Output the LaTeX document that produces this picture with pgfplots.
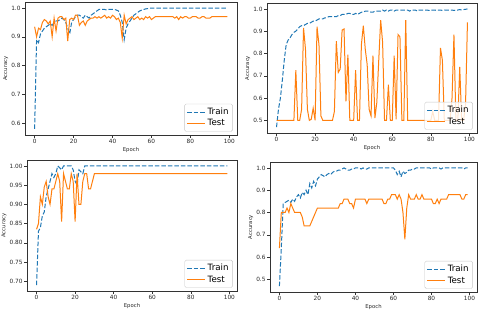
\documentclass[border=0pt]{standalone}
\usepackage{pgfplots}
\usepackage{pgfplotstable}
\pgfplotsset{compat=1.18}
\usepackage{fontspec}
\setmainfont{DejaVu Sans}
\definecolor{tabblue}{HTML}{1F77B4}
\definecolor{taborange}{HTML}{FF7F0E}
\pgfplotstableread{
e a1 b1 a2 b2 a3 b3 a4 b4
0 0.58 0.935 0.47 0.5 0.69 0.835 0.47 0.64
1 0.89 0.90 0.55 0.5 0.83 0.85 0.64 0.80
2 0.88 0.93 0.60 0.5 0.84 0.92 0.84 0.80
3 0.91 0.925 0.68 0.5 0.87 0.90 0.845 0.80
4 0.92 0.95 0.77 0.5 0.88 0.945 0.85 0.82
5 0.93 0.96 0.84 0.5 0.92 0.96 0.855 0.80
6 0.935 0.955 0.86 0.5 0.94 0.92 0.845 0.84
7 0.94 0.945 0.87 0.5 0.96 0.90 0.86 0.82
8 0.945 0.955 0.885 0.5 0.98 0.94 0.85 0.80
9 0.94 0.90 0.895 0.5 0.97 0.94 0.87 0.80
10 0.95 0.965 0.90 0.725 0.98 0.96 0.88 0.80
11 0.955 0.92 0.91 0.5 1.0 0.98 0.865 0.80
12 0.955 0.965 0.92 0.5 0.995 0.96 0.89 0.78
13 0.96 0.97 0.925 0.55 0.99 0.855 0.88 0.74
14 0.965 0.97 0.925 0.915 1.0 0.98 0.90 0.74
15 0.96 0.96 0.93 0.82 1.0 0.96 0.88 0.74
16 0.95 0.965 0.935 0.55 1.0 0.94 0.93 0.74
17 0.93 0.885 0.935 0.50 1.0 0.94 0.91 0.76
18 0.91 0.96 0.94 0.505 1.0 0.98 0.94 0.78
19 0.95 0.965 0.945 0.555 0.99 0.96 0.92 0.80
20 0.96 0.96 0.945 0.50 0.96 0.855 0.95 0.82
21 0.97 0.975 0.95 0.92 0.95 0.98 0.96 0.82
22 0.975 0.975 0.955 0.84 0.99 0.90 0.97 0.82
23 0.975 0.94 0.955 0.52 0.985 0.90 0.965 0.82
24 0.97 0.95 0.955 0.5 0.98 0.96 0.96 0.82
25 0.965 0.955 0.96 0.5 1.0 0.98 0.97 0.82
26 0.975 0.94 0.96 0.5 1.0 0.98 0.975 0.82
27 0.97 0.955 0.965 0.5 1.0 0.94 0.97 0.82
28 0.965 0.96 0.965 0.5 1.0 0.94 0.98 0.82
29 0.975 0.965 0.965 0.5 1.0 0.96 0.985 0.82
30 0.98 0.965 0.965 0.54 1.0 0.98 0.985 0.82
31 0.985 0.97 0.965 0.855 1.0 0.98 0.99 0.82
32 0.99 0.965 0.97 0.715 1.0 0.98 0.99 0.84
33 0.995 0.97 0.97 0.73 1.0 0.98 0.995 0.84
34 0.995 0.965 0.975 0.905 1.0 0.98 1.0 0.86
35 0.995 0.97 0.975 0.91 1.0 0.98 0.995 0.86
36 0.995 0.975 0.975 0.585 1.0 0.98 0.99 0.86
37 0.993 0.965 0.98 0.795 1.0 0.98 0.99 0.84
38 0.995 0.97 0.98 0.5 1.0 0.98 0.995 0.84
39 0.995 0.965 0.975 0.5 1.0 0.98 0.995 0.82
40 0.995 0.975 0.975 0.5 1.0 0.98 1.0 0.86
41 0.995 0.97 0.98 0.725 1.0 0.98 1.0 0.86
42 0.993 0.96 0.975 0.5 1.0 0.98 1.0 0.86
43 0.99 0.965 0.98 0.5 1.0 0.98 0.995 0.86
44 0.975 0.95 0.985 0.84 1.0 0.98 1.0 0.86
45 0.95 0.895 0.985 0.925 1.0 0.98 0.995 0.86
46 0.89 0.975 0.99 0.82 1.0 0.98 0.995 0.84
47 0.93 0.945 0.99 0.75 1.0 0.98 1.0 0.86
48 0.945 0.96 0.99 0.55 1.0 0.98 1.0 0.86
49 0.955 0.965 0.985 0.52 1.0 0.98 1.0 0.86
50 0.965 0.97 0.985 0.79 1.0 0.98 1.0 0.86
51 0.975 0.96 0.99 0.51 1.0 0.98 1.0 0.86
52 0.98 0.965 0.99 0.58 1.0 0.98 1.0 0.86
53 0.985 0.97 0.99 0.77 1.0 0.98 1.0 0.86
54 0.99 0.96 0.99 0.95 1.0 0.98 1.0 0.86
55 0.993 0.965 0.995 0.85 1.0 0.98 1.0 0.84
56 0.995 0.96 0.99 0.5 1.0 0.98 1.0 0.84
57 0.997 0.97 0.995 0.5 1.0 0.98 1.0 0.86
58 0.998 0.965 0.99 0.66 1.0 0.98 1.0 0.86
59 0.999 0.97 0.995 0.5 1.0 0.98 1.0 0.88
60 1.0 0.96 0.995 0.5 1.0 0.98 1.0 0.88
61 1.0 0.965 0.99 0.79 1.0 0.98 0.99 0.88
62 1.0 0.97 0.995 0.505 1.0 0.98 0.97 0.86
63 1.0 0.97 0.995 0.885 1.0 0.98 0.985 0.88
64 1.0 0.97 0.995 0.875 1.0 0.98 0.96 0.86
65 1.0 0.97 0.995 0.5 1.0 0.98 0.985 0.80
66 1.0 0.97 0.995 0.5 1.0 0.98 0.975 0.68
67 1.0 0.97 0.995 0.95 1.0 0.98 0.98 0.82
68 1.0 0.97 0.995 0.5 1.0 0.98 0.99 0.88
69 1.0 0.97 0.99 0.5 1.0 0.98 0.99 0.86
70 1.0 0.97 0.995 0.5 1.0 0.98 0.995 0.86
71 1.0 0.97 0.995 0.5 1.0 0.98 0.995 0.86
72 1.0 0.965 0.995 0.5 1.0 0.98 1.0 0.88
73 1.0 0.97 0.99 0.5 1.0 0.98 1.0 0.86
74 1.0 0.96 0.995 0.5 1.0 0.98 1.0 0.86
75 1.0 0.97 0.995 0.5 1.0 0.98 1.0 0.88
76 1.0 0.965 0.995 0.5 1.0 0.98 1.0 0.86
77 1.0 0.97 0.995 0.5 1.0 0.98 1.0 0.86
78 1.0 0.97 0.995 0.5 1.0 0.98 1.0 0.86
79 1.0 0.965 0.993 0.5 1.0 0.98 1.0 0.86
80 1.0 0.965 0.995 0.5 1.0 0.98 0.995 0.86
81 1.0 0.97 0.995 0.54 1.0 0.98 1.0 0.84
82 1.0 0.97 0.995 0.5 1.0 0.98 1.0 0.84
83 1.0 0.97 0.993 0.5 1.0 0.98 1.0 0.86
84 1.0 0.965 0.995 0.5 1.0 0.98 1.0 0.84
85 1.0 0.965 0.995 0.825 1.0 0.98 0.995 0.86
86 1.0 0.97 0.993 0.77 1.0 0.98 1.0 0.86
87 1.0 0.97 0.995 0.5 1.0 0.98 1.0 0.86
88 1.0 0.965 0.995 0.5 1.0 0.98 1.0 0.86
89 1.0 0.965 0.995 0.5 1.0 0.98 1.0 0.88
90 1.0 0.965 0.995 0.5 1.0 0.98 1.0 0.88
91 1.0 0.97 0.995 0.6 1.0 0.98 1.0 0.88
92 1.0 0.97 0.993 0.885 1.0 0.98 1.0 0.88
93 1.0 0.97 0.995 0.5 1.0 0.98 1.0 0.88
94 1.0 0.97 0.995 0.5 1.0 0.98 1.0 0.88
95 1.0 0.97 0.997 0.74 1.0 0.98 1.0 0.88
96 1.0 0.97 0.995 0.5 1.0 0.98 1.0 0.86
97 1.0 0.97 0.997 0.5 1.0 0.98 0.995 0.86
98 1.0 0.97 0.998 0.57 1.0 0.98 1.0 0.88
99 1.0 0.97 1.0 0.94 1.0 0.98 1.0 0.88
}\acc
\pgfplotsset{
  myax/.style={
    scale only axis,
    anchor=south west,
    xmin=-4.95, xmax=103.95,
    xtick={0,20,40,60,80,100},
    tick align=outside,
    xtick pos=bottom, ytick pos=left,
    major tick length=2.8pt,
    axis line style={black!80, line width=0.6pt},
    tick style={black!80, line width=0.5pt},
    tick label style={font=\fontsize{5.8}{6.5}\selectfont, text=black!85},
    yticklabel style={inner sep=1.5pt},
    xticklabel style={inner sep=1.5pt},
    label style={font=\fontsize{5.3}{6}\selectfont, text=black!85},
    /pgf/number format/assume math mode=true,
    xlabel={Epoch}, ylabel={Accuracy},
    xlabel shift=-1pt, ylabel shift=-2pt,
    legend cell align=left,
    legend image code/.code={\draw[#1] (0pt,0pt) -- (18pt,0pt);},
    legend style={at={(0.98,0.025)}, anchor=south east,
      draw=black!22, rounded corners=1.5pt, fill=white, fill opacity=0.8, text opacity=1,
      font=\fontsize{8.7}{9.5}\selectfont, inner sep=2pt, row sep=-0.5pt},
  },
  trn/.style={tabblue, line width=1pt, dash pattern=on 4.5pt off 2pt},
  tst/.style={taborange, line width=1pt},
}
\begin{document}
\begin{tikzpicture}
\useasboundingbox (0,0) rectangle (480pt,318pt);
% top-left
\begin{axis}[myax, at={(25pt,183pt)}, width=212pt, height=133pt,
  ymin=0.559, ymax=1.021, ytick={0.6,0.7,0.8,0.9,1.0},
  yticklabel style={/pgf/number format/.cd, fixed, fixed zerofill, precision=1}]
\addplot[trn] table[x=e,y=a1]{\acc};
\addplot[tst] table[x=e,y=b1]{\acc};
\legend{Train,Test}
\end{axis}
% top-right
\begin{axis}[myax, at={(267pt,185pt)}, width=210pt, height=130pt,
  ymin=0.4435, ymax=1.0265, ytick={0.5,0.6,0.7,0.8,0.9,1.0},
  yticklabel style={/pgf/number format/.cd, fixed, fixed zerofill, precision=1}]
\addplot[trn] table[x=e,y=a2]{\acc};
\addplot[tst] table[x=e,y=b2]{\acc};
\legend{Train,Test}
\end{axis}
% bottom-left
\begin{axis}[myax, at={(27pt,27pt)}, width=210pt, height=131pt,
  ymin=0.6745, ymax=1.0155, ytick={0.70,0.75,0.80,0.85,0.90,0.95,1.00},
  yticklabel style={/pgf/number format/.cd, fixed, fixed zerofill, precision=2}]
\addplot[trn] table[x=e,y=a3]{\acc};
\addplot[tst] table[x=e,y=b3]{\acc};
\legend{Train,Test}
\end{axis}
% bottom-right
\begin{axis}[myax, at={(270pt,26pt)}, width=207pt, height=130pt,
  ymin=0.4435, ymax=1.0265, ytick={0.5,0.6,0.7,0.8,0.9,1.0},
  yticklabel style={/pgf/number format/.cd, fixed, fixed zerofill, precision=1}]
\addplot[trn] table[x=e,y=a4]{\acc};
\addplot[tst] table[x=e,y=b4]{\acc};
\legend{Train,Test}
\end{axis}
\end{tikzpicture}
\end{document}
